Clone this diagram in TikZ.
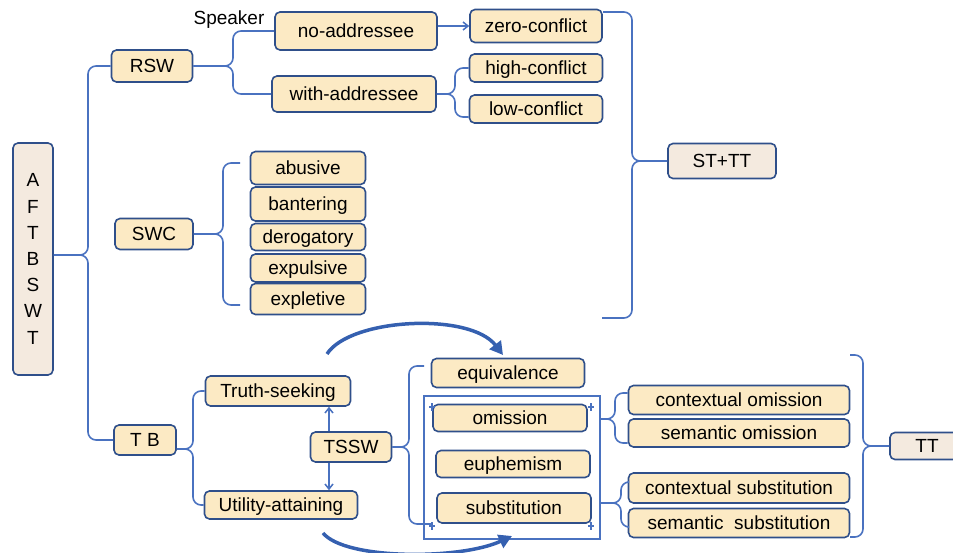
\documentclass[tikz,border=0pt]{standalone}
\usepackage{fontspec}
\setmainfont{Liberation Sans}
\usetikzlibrary{fit,arrows.meta}
\definecolor{boxc}{HTML}{2F4F8A}
\definecolor{itemc}{HTML}{FCEAC4}
\definecolor{headc}{HTML}{F4EADF}
\definecolor{linec}{HTML}{4A72C0}
\definecolor{bigc}{HTML}{3560B0}

\begin{document}
\begin{tikzpicture}[x=1pt,y=-1pt,
	base/.style={draw=boxc,line width=1.6pt,rounded corners=5pt,inner sep=0pt,font=\fontsize{19}{22}\selectfont},
	item/.style={base,fill=itemc,text height=14pt,text depth=1pt},
	head/.style={base,fill=headc,text height=14pt,text depth=1pt},
	brace/.style={draw=linec,line width=1.6pt,rounded corners=8pt},
	arr/.style={draw=linec,line width=1.5pt,-{Straight Barb[length=5pt,width=8pt]}},
	bigarr/.style={draw=bigc,line width=3.5pt,-{Triangle[length=13pt,width=14pt]}},
	frame/.style={draw=linec,line width=2pt,inner sep=8pt},
	tick/.style={draw=linec,line width=1.2pt}]
	\path [use as bounding box] (0,0) rectangle (953,553);
	\clip (0,0) rectangle (953,553);

	\node [base,fill=headc,align=center,minimum width=40,minimum height=232,font=\fontsize{19}{26.2}\selectfont] (aftbswt) at (33,259) {A\\F\\T\\B\\S\\W\\T};
	\node [item,minimum width=81,minimum height=32] (rsw) at (152,66) {RSW};
	\node [font=\fontsize{19}{22}\selectfont] (speaker) at (229,20) {Speaker};
	\node [item,minimum width=162,minimum height=38] (noadd) at (356,31) {no-addressee};
	\node [item,minimum width=164,minimum height=36] (withadd) at (354,94) {with-addressee};
	\node [item,minimum width=132,minimum height=33] (zerocon) at (536,26) {zero-conflict};
	\node [item,minimum width=133,minimum height=28] (highcon) at (536,68) {high-conflict};
	\node [item,minimum width=133,minimum height=28] (lowcon) at (536,109) {low-conflict};
	\node [head,minimum width=108,minimum height=35] (sttt) at (722,161) {ST+TT};
	\node [item,minimum width=78,minimum height=31] (swc) at (154,234) {SWC};
	\node [item,minimum width=115,minimum height=33] (abusive) at (308,168) {abusive};
	\node [item,minimum width=115,minimum height=34] (bantering) at (308,204) {bantering};
	\node [item,minimum width=115,minimum height=27] (derogatory) at (308,237) {derogatory};
	\node [item,minimum width=115,minimum height=28] (expulsive) at (308,268) {expulsive};
	\node [item,minimum width=115,minimum height=31] (expletive) at (308,299) {expletive};
	\node [item,minimum width=62,minimum height=30] (tb) at (145,440) {T B};
	\node [item,minimum width=145,minimum height=30] (truth) at (278,391) {Truth-seeking};
	\node [item,minimum width=153,minimum height=28] (utility) at (281,505) {Utility-attaining};
	\node [item,minimum width=81,minimum height=30] (tssw) at (351,447) {TSSW};
	\node [item,minimum width=153,minimum height=29] (equiv) at (508,373) {equivalence};
	\node [item,minimum width=154,minimum height=27] (omission) at (510,418) {omission};
	\node [item,minimum width=154,minimum height=27] (euphem) at (513,464) {euphemism};
	\node [item,minimum width=154,minimum height=30] (subst) at (514,508) {substitution};
	\node [item,minimum width=221,minimum height=29] (conom) at (739,400) {contextual omission};
	\node [item,minimum width=221,minimum height=28] (semom) at (739,433) {semantic omission};
	\node [item,minimum width=221,minimum height=30] (consub) at (739,488) {contextual substitution};
	\node [item,minimum width=221,minimum height=29] (semsub) at (739,523) {semantic\ \ substitution};
	\node [head,minimum width=74,minimum height=27] (tt) at (927,446) {TT};
	\coordinate (gb) at ([yshift=-7]subst.south);
	\node [frame,fit=(omission)(subst)(gb)] (grp) {};
	\foreach \p in {(432,407),(591,407),(432,526),(591,526)}
		\draw [tick] \p ++(-3,0) -- ++(6,0) \p ++(0,-4) -- ++(0,8);

	\coordinate (m1) at (88,255);
	\draw [brace] (rsw.west) -| (m1) -- (m1 -| aftbswt.east);
	\draw [brace] (tb.west) -| (m1) -- (m1 -| aftbswt.east);

	\coordinate (r1) at (233,66);
	\draw [brace] (noadd.west) -| (r1) -- (rsw.east);
	\draw [brace] (withadd.west) -| (r1) -- (rsw.east);
	\draw [arr] (noadd.east |- zerocon.west) -- (zerocon.west);

	\coordinate (w1) at (455,94);
	\draw [brace] (highcon.west) -| (w1) -- (withadd.east);
	\draw [brace] ([yshift=-8]lowcon.west) -| (w1) -- (withadd.east);

	\coordinate (s1) at (632,161);
	\coordinate (s1a) at (603,12);
	\coordinate (s1b) at (602,318);
	\draw [brace] (s1a) -| (s1) -- (sttt.west);
	\draw [brace] (s1b) -| (s1) -- (sttt.west);

	\coordinate (c1) at (223,234);
	\coordinate (c1a) at (240,163);
	\coordinate (c1b) at (240,305);
	\draw [brace] (c1a) -| (c1) -- (swc.east);
	\draw [brace] (c1b) -| (c1) -- (swc.east);

	\coordinate (t1) at (193,449);
	\draw [brace] (truth.west) -| (t1) -- (t1 -| tb.east);
	\draw [brace] (utility.west) -| (t1) -- (t1 -| tb.east);
	\draw [arr] ([xshift=-22]tssw.north) -- ([xshift=-22]tssw.north |- truth.south);
	\draw [arr] ([xshift=-22]tssw.south) -- ([xshift=-22]tssw.south |- utility.north);

	\coordinate (q1) at (409,447);
	\coordinate (q1a) at (424,366);
	\coordinate (q1b) at (432,524);
	\draw [brace] (q1a) -| (q1) -- (tssw.east);
	\draw [brace] (q1b) -| (q1) -- (tssw.east);

	\coordinate (o1) at (615,419);
	\draw [brace] ([yshift=7]conom.west) -| (o1) -- (o1 -| grp.east);
	\draw [brace] ([yshift=-10]semom.west) -| (o1) -- (o1 -| grp.east);

	\coordinate (u1) at (621,503);
	\draw [brace] ([yshift=6]consub.west) -| (u1) -- (u1 -| grp.east);
	\draw [brace] ([yshift=-4]semsub.west) -| (u1) -- (u1 -| grp.east);

	\coordinate (v1) at (863,446);
	\coordinate (v1a) at (850,355);
	\coordinate (v1b) at (850,537);
	\draw [brace] (v1a) -| (v1) -- (tt.west);
	\draw [brace] (v1b) -| (v1) -- (tt.west);

	\coordinate (ka) at (327,354);
	\coordinate (kb) at (503,355);
	\draw [bigarr] (ka) .. controls (350,318) and (470,312) .. (kb);
	\coordinate (la) at (323,533);
	\coordinate (lb) at (512,536);
	\draw [bigarr] (la) .. controls (345,560) and (460,560) .. (lb);
\end{tikzpicture}
\end{document}
